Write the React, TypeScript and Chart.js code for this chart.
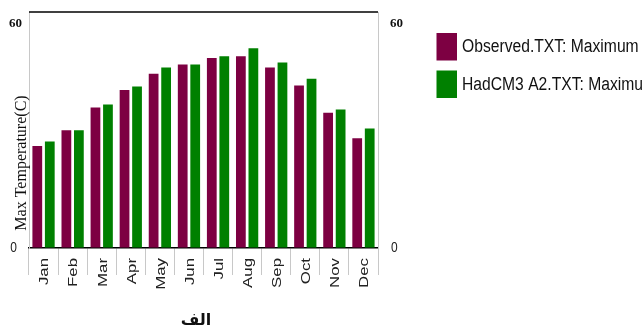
import React, { useEffect, useRef } from "react";
import { Chart, registerables } from "chart.js";

Chart.register(...registerables);

const months = ["Jan", "Feb", "Mar", "Apr", "May", "Jun", "Jul", "Aug", "Sep", "Oct", "Nov", "Dec"];
const observedMax = [27.2, 31.4, 37.5, 42.2, 46.5, 49.0, 50.7, 51.2, 48.2, 43.4, 36.1, 29.3];
const hadcm3Max = [28.4, 31.4, 38.3, 43.1, 48.2, 49.0, 51.2, 53.3, 49.5, 45.2, 37.0, 31.9];
const yTickValues = [0, 60];
const seriesNames = ["Observed.TXT: Maximum", "HadCM3 A2.TXT: Maximum"];
const seriesColors = ["#7d0042", "#008000"];
const yTitle = "Max Temperature(C)";
const xTitle = "الف";

// draws text squeezed or stretched along its own direction
function drawScaledText(ctx: CanvasRenderingContext2D, text: string, x: number, y: number, sx: number) {
  ctx.save();
  ctx.translate(x, y);
  ctx.scale(sx, 1);
  ctx.fillText(text, 0, 0);
  ctx.restore();
}

const decorations = {
  id: "decorations",
  afterDraw(chart: any) {
    const { ctx, chartArea: ca, scales } = chart;
    const x = scales.x;
    const y = scales.y;
    ctx.save();

    // top frame line
    ctx.strokeStyle = "#000";
    ctx.lineWidth = 1.5;
    ctx.beginPath();
    ctx.moveTo(ca.left, ca.top);
    ctx.lineTo(ca.right, ca.top);
    ctx.stroke();

    // month labels, reading bottom to top
    ctx.fillStyle = "#222";
    ctx.font = "12px 'Liberation Sans', Arial, sans-serif";
    months.forEach((m, i) => {
      const px = x.getPixelForTick(i);
      ctx.save();
      ctx.translate(px + 1.5, ca.bottom + 10);
      ctx.rotate(-Math.PI / 2);
      ctx.textAlign = "right";
      ctx.textBaseline = "middle";
      drawScaledText(ctx, m, 0, 0, 1.4);
      ctx.restore();
    });

    // value labels on both sides
    yTickValues.forEach((v) => {
      const py = y.getPixelForValue(v);
      ctx.textBaseline = "middle";
      if (v === 0) {
        ctx.font = "15px 'Liberation Sans', sans-serif";
        ctx.fillStyle = "#222";
        ctx.textAlign = "center";
        drawScaledText(ctx, String(v), 13.5, py, 0.8);
        ctx.textAlign = "left";
        drawScaledText(ctx, String(v), ca.right + 13, py, 0.8);
      } else {
        ctx.font = "bold 13px 'Liberation Serif', serif";
        ctx.fillStyle = "#111";
        ctx.textAlign = "right";
        ctx.fillText(String(v), 22, py);
        ctx.textAlign = "left";
        ctx.fillText(String(v), ca.right + 12, py);
      }
    });

    // y axis title
    ctx.save();
    ctx.translate(21.5, 163);
    ctx.rotate(-Math.PI / 2);
    ctx.font = "16px 'Liberation Serif', serif";
    ctx.fillStyle = "#111";
    ctx.textAlign = "center";
    ctx.textBaseline = "middle";
    ctx.fillText(yTitle, 0, 0);
    ctx.restore();

    // x axis title
    ctx.font = "bold 16px 'DejaVu Sans', sans-serif";
    ctx.fillStyle = "#111";
    ctx.textAlign = "center";
    ctx.textBaseline = "middle";
    ctx.fillText(xTitle, 196, 321);

    // legend
    const boxes = [
      { top: 33, label: seriesNames[0], color: seriesColors[0] },
      { top: 70.5, label: seriesNames[1], color: seriesColors[1] },
    ];
    boxes.forEach((b) => {
      ctx.fillStyle = b.color;
      ctx.fillRect(436.5, b.top, 20.5, 27.5);
      ctx.fillStyle = "#111";
      ctx.font = "18px 'Liberation Sans', sans-serif";
      ctx.textAlign = "left";
      ctx.textBaseline = "middle";
      drawScaledText(ctx, b.label, 462, b.top + 14.5, 0.87);
    });

    ctx.restore();
  },
};

export default function App() {
  const canvasRef = useRef<HTMLCanvasElement | null>(null);

  useEffect(() => {
    if (!canvasRef.current) return;
    const chart = new Chart(canvasRef.current, {
      type: "bar",
      data: {
        labels: months,
        datasets: [
          {
            label: seriesNames[0],
            data: observedMax,
            backgroundColor: seriesColors[0],
            categoryPercentage: 0.86,
            barPercentage: 0.78,
          },
          {
            label: seriesNames[1],
            data: hadcm3Max,
            backgroundColor: seriesColors[1],
            categoryPercentage: 0.86,
            barPercentage: 0.78,
          },
        ],
      },
      options: {
        responsive: false,
        animation: false,
        layout: { padding: { top: 12, left: 0, right: 0, bottom: 0 } },
        plugins: {
          legend: { display: false },
          tooltip: { enabled: false },
        },
        scales: {
          x: {
            position: "bottom",
            grid: {
              offset: true,
              drawOnChartArea: false,
              drawTicks: true,
              tickLength: 27,
              color: "#c8c8c8",
              lineWidth: 1,
            },
            border: { display: true, color: "#000", width: 1.5 },
            ticks: { display: false },
            afterFit: (s: any) => {
              s.height = 81;
            },
          },
          y: {
            position: "left",
            min: 0,
            max: 63,
            afterBuildTicks: (s: any) => {
              s.ticks = yTickValues.map((v) => ({ value: v }));
            },
            grid: { drawOnChartArea: false, drawTicks: false },
            border: { display: true, color: "#c8c8c8", width: 1 },
            ticks: { display: false },
            afterFit: (s: any) => {
              s.width = 29;
            },
          },
          y2: {
            position: "right",
            min: 0,
            max: 63,
            afterBuildTicks: (s: any) => {
              s.ticks = yTickValues.map((v) => ({ value: v }));
            },
            grid: { drawOnChartArea: false, drawTicks: false },
            border: { display: true, color: "#c8c8c8", width: 1 },
            ticks: { display: false },
            afterFit: (s: any) => {
              s.width = 265;
            },
          },
        },
      },
      plugins: [decorations],
    });
    return () => chart.destroy();
  }, []);

  return (
    <div style={{ position: "absolute", left: 0, top: 0, width: 643, height: 329, background: "#fff" }}>
      <canvas ref={canvasRef} width={643} height={329} style={{ display: "block", width: 643, height: 329 }} />
    </div>
  );
}
